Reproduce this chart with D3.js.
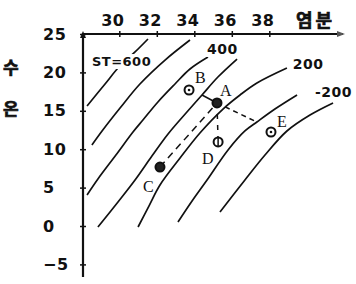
<!DOCTYPE html>
<html><head><meta charset="utf-8">
<script src="https://cdn.jsdelivr.net/npm/d3@7"></script>
<style>
body{margin:0;background:#fff}
svg{display:block}
.tick text{font-family:"DejaVu Sans",sans-serif;font-weight:bold;font-size:16px;letter-spacing:0.5px;fill:#111}
.lab{font-family:"DejaVu Sans",sans-serif;font-weight:bold;fill:#111}
.ko{font-family:"Noto Sans CJK KR",sans-serif;font-weight:bold;fill:#111;stroke:#111;stroke-width:0.7}
.pt{font-family:"Liberation Serif",serif;font-size:16px;fill:#111}
</style></head><body>
<svg id="chart" width="356" height="284"></svg>
<script>
// axis ticks
const salTicks = [30, 32, 34, 36, 38];
const tempTicks = [-5, 0, 5, 10, 15, 20, 25];

// thermosteric anomaly isolines, [salinity, temperature]
const iso1 = [[28.28,15.63],[29.24,18.49],[29.98,20.70],[30.84,22.66],[31.53,24.35]];
const iso2 = [[28.54,10.55],[29.08,12.37],[30.04,15.36],[31.10,18.49],[32.44,21.61],[33.77,24.22]];
const iso3 = [[28.28,4.04],[28.86,6.12],[29.82,9.24],[30.73,12.24],[31.26,13.80],[32.06,16.15],[32.97,18.49],[33.77,20.44],[34.73,22.00]];
const iso4 = [[28.86,-0.13],[29.93,3.13],[30.84,5.99],[31.74,9.11],[32.60,11.98],[33.56,14.71],[34.41,17.06],[35.26,19.40],[36.28,21.74]];
const iso5 = [[31.00,-0.13],[31.58,2.60],[32.17,5.34],[33.24,8.85],[34.30,12.11],[35.53,15.23],[36.44,17.06],[37.34,18.62],[38.94,20.57]];
const iso6 = [[33.13,0.52],[33.88,3.26],[34.68,5.99],[35.80,9.90],[36.70,12.37],[37.34,13.54],[38.30,15.23],[39.48,17.06]];
const iso7 = [[35.37,1.82],[36.70,5.99],[37.77,9.24],[38.94,12.37],[40.17,14.45],[41.40,16.02]];
const isoLines = [iso1, iso2, iso3, iso4, iso5, iso6, iso7];

// water masses
const massNames = ["A", "B", "C", "D", "E"];
const massSal = [35.21, 33.72, 32.17, 35.27, 38.09];
const massTemp = [16.02, 17.71, 7.68, 10.94, 12.24];

// end points of the paths drawn from A
const toB = [34.41, 17.06];
const toE = [37.34, 13.54];

const svg = d3.select("#chart");
const x = d3.scaleLinear().domain([30, 38]).range([119.3, 269.3]);
const y = d3.scaleLinear().domain([0, 25]).range([226, 34]);
const x0 = 83, xEnd = 343;

// top salinity axis
const gx = svg.append("g").attr("transform", `translate(0,${y(25)})`)
  .call(d3.axisTop(x).tickValues(salTicks).tickSize(3).tickSizeOuter(0));
gx.select(".domain").remove();
gx.selectAll(".tick line").attr("y1", -3).attr("y2", 3).attr("stroke", "#111").attr("stroke-width", 1.5);
gx.selectAll(".tick text").attr("y", -8).attr("dx", -7);
svg.append("line").attr("x1", x0).attr("x2", xEnd).attr("y1", y(25)).attr("y2", y(25))
  .attr("stroke", "#111").attr("stroke-width", 2);
svg.append("path").attr("d", `M${xEnd+2},${y(25)} l-8,-3 l0,6 z`).attr("fill", "#555");

// left temperature axis
const gy = svg.append("g").attr("transform", `translate(${x0},0)`)
  .call(d3.axisLeft(y).tickValues(tempTicks).tickSize(3).tickSizeOuter(0));
gy.select(".domain").remove();
gy.selectAll(".tick line").attr("x1", -3).attr("x2", 3).attr("stroke", "#111").attr("stroke-width", 1.5);
gy.selectAll(".tick text").attr("x", -40).attr("text-anchor", "start");
svg.append("line").attr("x1", x0).attr("x2", x0).attr("y1", 33).attr("y2", 277)
  .attr("stroke", "#111").attr("stroke-width", 2.2);
svg.append("path").attr("d", `M${x0},31 l-3,7 l6,0 z`).attr("fill", "#111");

// axis titles
svg.append("text").attr("class", "ko").attr("x", 296).attr("y", 27)
  .attr("font-size", 18).attr("letter-spacing", 3).text("염분");
svg.append("text").attr("class", "ko").attr("x", 3).attr("y", 74)
  .attr("font-size", 17).text("수");
svg.append("text").attr("class", "ko").attr("x", 3).attr("y", 115)
  .attr("font-size", 17).text("온");

// isolines
const line = d3.line().x(d => x(d[0])).y(d => y(d[1])).curve(d3.curveCatmullRom);
svg.append("g").selectAll("path").data(isoLines).enter().append("path")
  .attr("d", line).attr("fill", "none").attr("stroke", "#111").attr("stroke-width", 1.7);

// isoline labels
function isoLabel(txt, s, t, fs) {
  const el = svg.append("text").attr("class", "lab").attr("x", x(s)).attr("y", y(t))
    .attr("font-size", fs).attr("letter-spacing", 0.5).text(txt);
  const b = el.node().getBBox();
  svg.insert("rect", () => el.node()).attr("x", b.x - 1).attr("y", b.y).attr("width", b.width + 2)
    .attr("height", b.height).attr("fill", "#fff");
}
isoLabel("ST=600", 28.54, 20.83, 13);
isoLabel("400", 34.68, 22.4, 14);
isoLabel("200", 39.25, 20.44, 14);
isoLabel("-200", 40.44, 16.8, 14);

// paths from A
const A = [massSal[0], massTemp[0]];
const seg = (p, q, dash) => svg.append("line")
  .attr("x1", x(p[0])).attr("y1", y(p[1])).attr("x2", x(q[0])).attr("y2", y(q[1]))
  .attr("stroke", "#111").attr("stroke-width", 1.5).attr("stroke-dasharray", dash);
seg(A, toB, null);
seg(A, toE, "5,4");
seg(A, [massSal[3], massTemp[3]], "5,6");
seg([massSal[2], massTemp[2]], A, "7,5");

// water mass markers
massNames.forEach((n, i) => {
  const cx = x(massSal[i]), cy = y(massTemp[i]);
  const dark = n === "A" || n === "C";
  svg.append("circle").attr("cx", cx).attr("cy", cy).attr("r", 4.5)
    .attr("fill", dark ? "#222" : "#fff").attr("stroke", "#111").attr("stroke-width", 2);
  if (n === "D") svg.append("line").attr("x1", cx).attr("x2", cx).attr("y1", cy - 4).attr("y2", cy + 4)
    .attr("stroke", "#111").attr("stroke-width", 1.5);
  if (n === "B" || n === "E") svg.append("circle").attr("cx", cx).attr("cy", cy).attr("r", 1.3).attr("fill", "#111");
});

// water mass letters
const letterPos = [[35.37, 16.93], [34.04, 18.62], [31.26, 4.43], [34.41, 8.07], [38.41, 12.89]];
svg.append("g").selectAll("text").data(massNames).enter().append("text")
  .attr("class", "pt").attr("x", (d, i) => x(letterPos[i][0])).attr("y", (d, i) => y(letterPos[i][1]))
  .text(d => d);
</script>
</body></html>
